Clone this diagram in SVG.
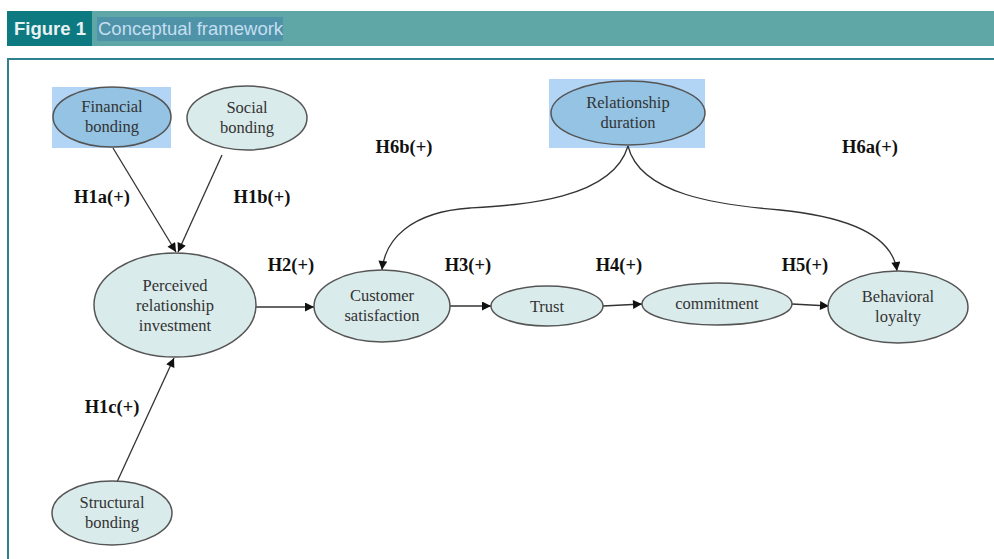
<svg xmlns="http://www.w3.org/2000/svg" width="994" height="559" viewBox="0 0 994 559">
<style>
.hdr{font-family:"Liberation Sans",Arial,sans-serif;font-size:18.5px}
.node ellipse{fill:#daebeb;stroke:#555;stroke-width:1.5}
.node.blue ellipse{fill:#94c3e4}
.node text{font-family:"Liberation Serif","Times New Roman",serif;font-size:16.5px;fill:#333;text-anchor:middle}
.hl{fill:#b2d5f6}
.lab{font-family:"Liberation Serif","Times New Roman",serif;font-size:18.5px;font-weight:bold;fill:#111;text-anchor:middle}
#edges path,#edges line{stroke:#333;stroke-width:1.3;fill:none;marker-end:url(#ah)}
</style>
<defs>
<marker id="ah" viewBox="0 0 10 10" refX="10" refY="5" markerWidth="11" markerHeight="9" markerUnits="userSpaceOnUse" orient="auto">
<path d="M0,0 L10,5 L0,10 z" fill="#111"/>
</marker>
</defs>
<rect width="994" height="559" fill="#fff"/>
<g id="header">
<rect x="7" y="11" width="987" height="35" fill="#5ea7a6"/>
<rect x="7" y="11" width="85" height="35" fill="#0d7a82"/>
<rect x="97" y="17" width="186" height="24" fill="#4f93a9"/>
<text x="14" y="35" class="hdr" font-weight="bold" fill="#e8f2f2">Figure 1</text>
<text x="98" y="35" class="hdr" fill="#c5dff0">Conceptual framework</text>
</g>
<rect x="8" y="59" width="990" height="510" fill="none" stroke="#2f8190" stroke-width="2"/>
<rect class="hl" x="52" y="87" width="119" height="61"/>
<rect class="hl" x="549" y="79" width="156" height="69"/>
<g id="edges">
<line x1="113" y1="148" x2="176" y2="252"/>
<line x1="222" y1="155" x2="178" y2="252"/>
<line x1="117" y1="482" x2="174" y2="358"/>
<line x1="256" y1="307" x2="314" y2="307"/>
<line x1="450" y1="306" x2="491" y2="306"/>
<line x1="603" y1="306" x2="642" y2="304"/>
<line x1="792" y1="304" x2="829" y2="306"/>
<path d="M628,146 C612,200 520,205 470,208 C410,212 385,240 382,270"/>
<path d="M628,146 C640,195 720,205 780,210 C860,218 893,240 897,271"/>
</g>
<g id="financial" class="node blue"><ellipse cx="112" cy="117" rx="59" ry="30"/><text x="112" y="112">Financial</text><text x="112" y="132">bonding</text></g>
<g id="social" class="node"><ellipse cx="247" cy="118" rx="60" ry="32"/><text x="247" y="113">Social</text><text x="247" y="133">bonding</text></g>
<g id="duration" class="node blue"><ellipse cx="628" cy="113" rx="77" ry="32"/><text x="628" y="108">Relationship</text><text x="628" y="128">duration</text></g>
<g id="investment" class="node"><ellipse cx="175" cy="305" rx="81" ry="52"/><text x="175" y="291">Perceived</text><text x="175" y="311">relationship</text><text x="175" y="331">investment</text></g>
<g id="satisfaction" class="node"><ellipse cx="382" cy="306" rx="68" ry="36"/><text x="382" y="301">Customer</text><text x="382" y="321">satisfaction</text></g>
<g id="trust" class="node"><ellipse cx="547" cy="306" rx="56" ry="20"/><text x="547" y="312">Trust</text></g>
<g id="commitment" class="node"><ellipse cx="717" cy="304" rx="75" ry="21"/><text x="717" y="309">commitment</text></g>
<g id="loyalty" class="node"><ellipse cx="898" cy="307" rx="70" ry="36"/><text x="898" y="302">Behavioral</text><text x="898" y="322">loyalty</text></g>
<g id="structural" class="node"><ellipse cx="112" cy="513" rx="60" ry="32"/><text x="112" y="508">Structural</text><text x="112" y="528">bonding</text></g>
<g id="labels">
<text class="lab" x="102" y="203">H1a(+)</text>
<text class="lab" x="262" y="203">H1b(+)</text>
<text class="lab" x="112" y="413">H1c(+)</text>
<text class="lab" x="291" y="271">H2(+)</text>
<text class="lab" x="468" y="271">H3(+)</text>
<text class="lab" x="619" y="271">H4(+)</text>
<text class="lab" x="805" y="271">H5(+)</text>
<text class="lab" x="404" y="153">H6b(+)</text>
<text class="lab" x="870" y="153">H6a(+)</text>
</g>
</svg>
